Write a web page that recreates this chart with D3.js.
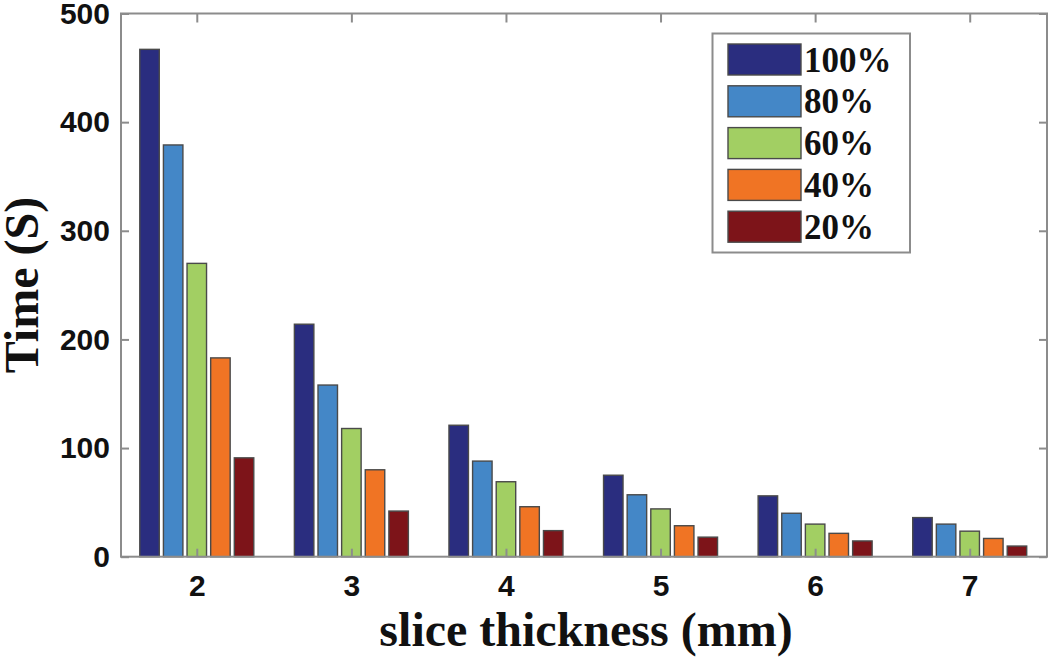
<!DOCTYPE html>
<html>
<head>
<meta charset="utf-8">
<script src="https://cdn.jsdelivr.net/npm/d3@7"></script>
<style>
  html, body { margin: 0; padding: 0; background: #fff; }
  svg { display: block; }
</style>
</head>
<body>
<svg id="chart" width="1050" height="657"></svg>
<script>
// ---- data ----
const categories = [2, 3, 4, 5, 6, 7];
const seriesNames = ["100%", "80%", "60%", "40%", "20%"];
const values100 = [467, 214, 121, 75, 56, 36];
const values80  = [379, 158, 88, 57, 40, 30];
const values60  = [270, 118, 69, 44, 30, 23.5];
const values40  = [183, 80, 46, 28.5, 21.5, 16.8];
const values20  = [91, 42, 24, 18, 14.5, 9.8];
const yTicks = [0, 100, 200, 300, 400, 500];
const xLabel = "slice thickness (mm)";
const yLabel = "Time (S)";

const seriesValues = [values100, values80, values60, values40, values20];
const colors = ["#2a2d7f", "#4487c7", "#a2cf63", "#f07424", "#7d1419"];

(function () {
// ---- layout ----
const svg = d3.select("#chart");
const pL = 121, pR = 1047, pT = 13.5, pB = 556.7;

const x = d3.scaleLinear().domain([1.5, 7.5]).range([pL - 1.5, pR]);
const y = d3.scaleLinear().domain([0, 500]).range([pB, pT]);
const inner = d3.scaleBand().domain(seriesNames).range([-57, 57]).paddingInner(0.175).paddingOuter(0);

const axisColor = "#8c8c8c";

// bars
seriesNames.forEach((name, si) => {
  svg.append("g").selectAll("rect")
    .data(categories.map((c, i) => ({ c, v: seriesValues[si][i] })))
    .join("rect")
    .attr("x", d => x(d.c) + inner(name))
    .attr("width", inner.bandwidth())
    .attr("y", d => y(d.v))
    .attr("height", d => y(0) - y(d.v))
    .attr("fill", colors[si])
    .attr("stroke", "#4a4a4a")
    .attr("stroke-width", 1.4);
});

// box
svg.append("rect")
  .attr("x", pL).attr("y", pT)
  .attr("width", pR - pL).attr("height", pB - pT)
  .attr("fill", "none").attr("stroke", axisColor).attr("stroke-width", 2);

// y axis (left) with inward ticks
const yAxisL = d3.axisLeft(y).tickValues(yTicks).tickSize(-8).tickPadding(11).tickFormat(d3.format("d"));
const gyl = svg.append("g").attr("transform", `translate(${pL},0)`).call(yAxisL);
gyl.select(".domain").remove();
gyl.selectAll("line").attr("stroke", axisColor).attr("stroke-width", 2);
gyl.selectAll("text").attr("font-family", "'Liberation Sans', Arial, sans-serif")
  .attr("font-weight", "bold").attr("font-size", 30).attr("fill", "#111");

// y axis right ticks (no labels)
const yAxisR = d3.axisRight(y).tickValues(yTicks).tickSize(-8).tickFormat("");
const gyr = svg.append("g").attr("transform", `translate(${pR},0)`).call(yAxisR);
gyr.select(".domain").remove();
gyr.selectAll("line").attr("stroke", axisColor).attr("stroke-width", 2);

// x axis bottom
const xAxisB = d3.axisBottom(x).tickValues(categories).tickSize(-8).tickPadding(18).tickFormat(d3.format("d"));
const gxb = svg.append("g").attr("transform", `translate(0,${pB})`).call(xAxisB);
gxb.select(".domain").remove();
gxb.selectAll("line").attr("stroke", axisColor).attr("stroke-width", 2);
gxb.selectAll("text").attr("font-family", "'Liberation Sans', Arial, sans-serif")
  .attr("font-weight", "bold").attr("font-size", 30).attr("fill", "#111");

// x axis top ticks
const xAxisT = d3.axisTop(x).tickValues(categories).tickSize(-9).tickFormat("");
const gxt = svg.append("g").attr("transform", `translate(0,${pT})`).call(xAxisT);
gxt.select(".domain").remove();
gxt.selectAll("line").attr("stroke", axisColor).attr("stroke-width", 2);

// axis titles
svg.append("text")
  .attr("x", (pL + pR) / 2 + 2).attr("y", 646)
  .attr("text-anchor", "middle")
  .attr("font-family", "'Liberation Serif', 'Times New Roman', serif")
  .attr("font-weight", "bold").attr("font-size", 48).attr("fill", "#111")
  .text(xLabel);

svg.append("text")
  .attr("transform", `translate(38,${(pT + pB) / 2}) rotate(-90)`)
  .attr("text-anchor", "middle")
  .attr("font-family", "'Liberation Serif', 'Times New Roman', serif")
  .attr("font-weight", "bold").attr("font-size", 48).attr("fill", "#111")
  .text(yLabel);

// legend
const lg = svg.append("g");
lg.append("rect")
  .attr("x", 712.5).attr("y", 33.5).attr("width", 197.5).attr("height", 219)
  .attr("fill", "#fff").attr("stroke", axisColor).attr("stroke-width", 2);
seriesNames.forEach((name, i) => {
  const cy = 59.5 + i * 41.8;
  lg.append("rect")
    .attr("x", 728).attr("y", cy - 15.5).attr("width", 73).attr("height", 31)
    .attr("fill", colors[i]).attr("stroke", "#4a4a4a").attr("stroke-width", 1.4);
  lg.append("text")
    .attr("x", 804).attr("y", cy + 12)
    .attr("font-family", "'Liberation Serif', 'Times New Roman', serif")
    .attr("font-weight", "bold").attr("font-size", 35).attr("fill", "#111")
    .text(name);
});
})();
</script>
</body>
</html>
